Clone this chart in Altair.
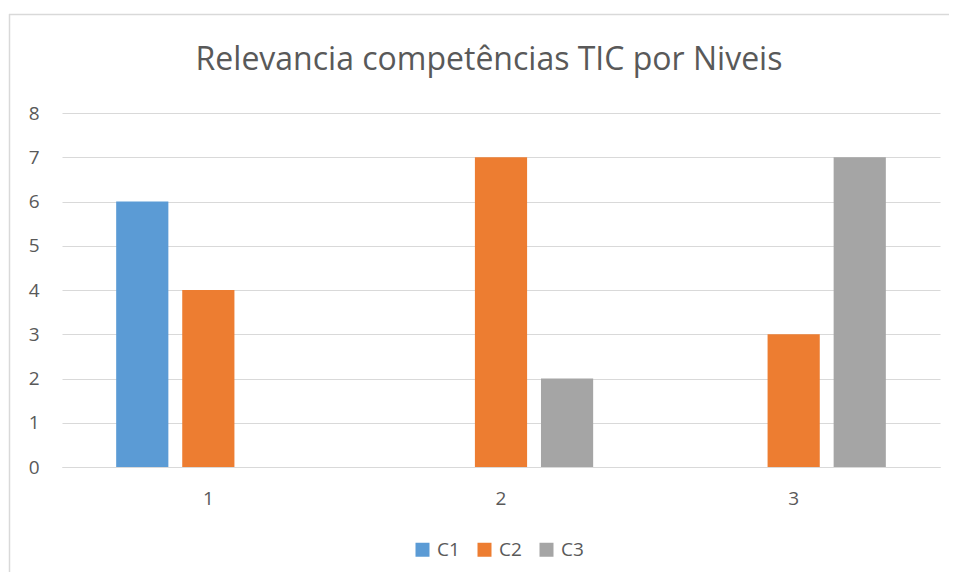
import altair as alt
import pandas as pd

niveis = ["1", "2", "3"]
series = ["C1", "C2", "C3"]
c1 = [6, 0, 0]
c2 = [4, 7, 3]
c3 = [0, 2, 7]
colors = ["#5B9BD5", "#ED7D31", "#A5A5A5"]
y_ticks = [0, 1, 2, 3, 4, 5, 6, 7, 8]
title_text = "Relevancia competências TIC por Niveis"

rows = []
for s, vals in zip(series, [c1, c2, c3]):
    for n, v in zip(niveis, vals):
        rows.append({"Nivel": n, "Serie": s, "Valor": v})
df = pd.DataFrame(rows)

FONT = "Open Sans"
TXT = "#595959"
GRID = "#d9d9d9"

one = pd.DataFrame({"a": [0]})
frame_top = alt.Chart(one).mark_rule(color=GRID, strokeWidth=1.5).encode(
    x=alt.value(-53), x2=alt.value(895), y=alt.value(-98.5)
)
frame_left = alt.Chart(one).mark_rule(color=GRID, strokeWidth=1.5).encode(
    x=alt.value(-52.5), y=alt.value(-99), y2=alt.value(470)
)

title = alt.Chart(pd.DataFrame({"t": [title_text]})).mark_text(
    font=FONT, fontSize=32, color=TXT, align="center", baseline="alphabetic"
).encode(
    text="t:N", x=alt.value(427), y=alt.value(-43)
)

bars = alt.Chart(df).mark_bar().encode(
    x=alt.X(
        "Nivel:N",
        sort=niveis,
        scale=alt.Scale(paddingInner=0, paddingOuter=0),
        axis=alt.Axis(
            title=None, labelAngle=0, ticks=False, domain=True,
            domainColor=GRID, domainWidth=1, grid=False,
            labelPadding=22, labelFont=FONT, labelFontSize=19, labelColor=TXT,
        ),
    ),
    xOffset=alt.XOffset(
        "Serie:N", sort=series,
        scale=alt.Scale(paddingInner=0.21, paddingOuter=0.82),
    ),
    y=alt.Y(
        "Valor:Q",
        scale=alt.Scale(domain=[0, 8]),
        axis=alt.Axis(
            title=None, values=y_ticks, grid=True, gridColor=GRID, gridWidth=1,
            domain=False, ticks=False, labelPadding=23,
            labelFont=FONT, labelFontSize=19, labelColor=TXT,
        ),
    ),
    color=alt.Color(
        "Serie:N",
        scale=alt.Scale(domain=series, range=colors),
        legend=alt.Legend(
            orient="none", legendX=351, legendY=427, padding=0,
            title=None, direction="horizontal",
            symbolType="square", symbolSize=196, symbolStrokeWidth=0,
            labelFont=FONT, labelFontSize=19, labelColor=TXT,
            labelOffset=5, columnPadding=15,
        ),
    ),
)

chart = alt.layer(frame_top, frame_left, title, bars).properties(
    width=878,
    height=354,
    autosize=alt.AutoSizeParams(type="none"),
    padding={"left": 54, "top": 105, "right": 9, "bottom": 105},
).configure_view(stroke=None)

chart.save("out.html", embed_options={"renderer": "svg", "actions": False})
